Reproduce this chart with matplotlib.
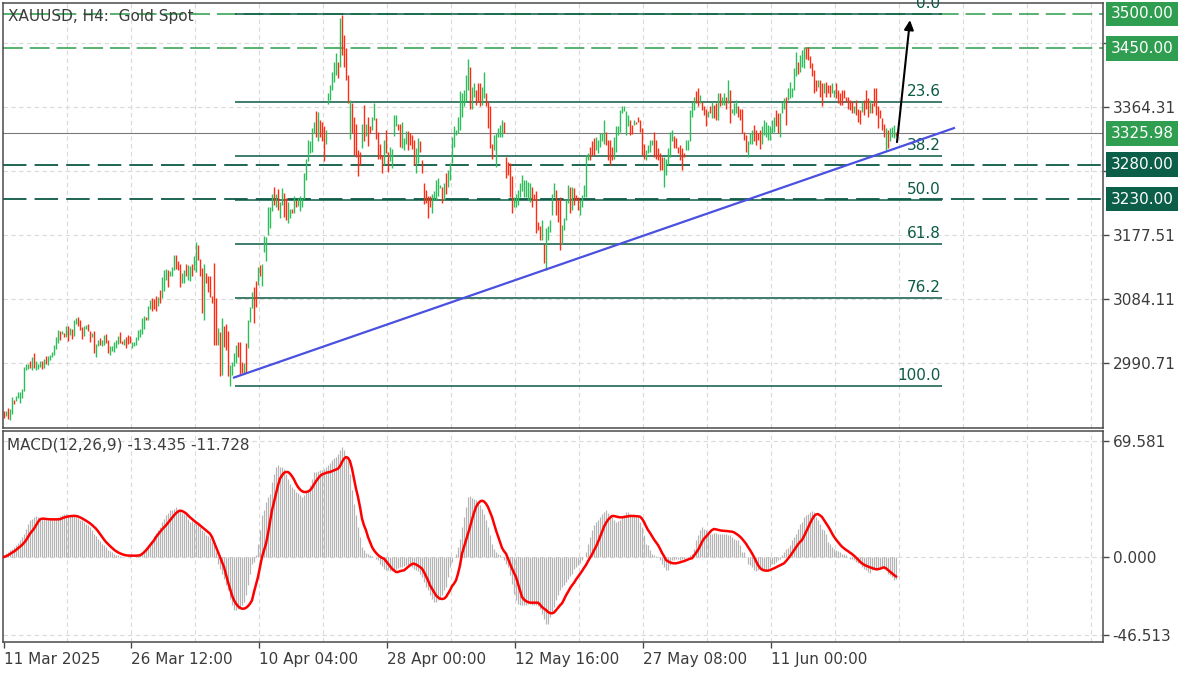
import numpy as np
import matplotlib
matplotlib.use("Agg")
import matplotlib.pyplot as plt
import matplotlib.transforms as mtransforms

# ---- price bars (H4) ----
highs = [
    2920, 2921, 2925, 2924, 2941, 2937, 2942, 2948, 2949, 2953,
    2985, 2989, 2990, 2994, 3000, 3005, 2994, 2990, 2994, 2993,
    2997, 3001, 3001, 3003, 3007, 3017, 3029, 3039, 3037, 3037,
    3035, 3045, 3045, 3042, 3040, 3053, 3057, 3058, 3053, 3043,
    3044, 3046, 3048, 3038, 3035, 3037, 3019, 3024, 3027, 3025,
    3032, 3033, 3024, 3015, 3016, 3022, 3024, 3030, 3036, 3023,
    3026, 3028, 3032, 3030, 3022, 3022, 3029, 3039, 3041, 3056,
    3059, 3058, 3074, 3083, 3085, 3084, 3088, 3087, 3097, 3116,
    3127, 3128, 3127, 3125, 3131, 3148, 3148, 3140, 3135, 3122,
    3127, 3135, 3134, 3132, 3135, 3147, 3168, 3163, 3142, 3129,
    3135, 3122, 3118, 3117, 3089, 3137, 3086, 3042, 3036, 3057,
    3045, 3047, 3038, 2988, 2992, 3005, 3017, 3021, 3022, 2992,
    2991, 3020, 3053, 3073, 3095, 3102, 3111, 3131, 3134, 3135,
    3176, 3175, 3219, 3219, 3238, 3247, 3238, 3244, 3226, 3246,
    3239, 3231, 3226, 3216, 3216, 3234, 3229, 3232, 3234, 3232,
    3268, 3288, 3316, 3314, 3333, 3343, 3358, 3357, 3345, 3343,
    3336, 3330, 3385, 3396, 3416, 3430, 3443, 3430, 3494, 3499,
    3469, 3450, 3411, 3375, 3370, 3350, 3340, 3302, 3299, 3340,
    3367, 3340, 3350, 3337, 3349, 3370, 3348, 3328, 3311, 3294,
    3316, 3331, 3299, 3306, 3303, 3353, 3353, 3340, 3340, 3343,
    3319, 3329, 3329, 3327, 3323, 3316, 3305, 3319, 3314, 3287,
    3253, 3243, 3234, 3234, 3238, 3241, 3258, 3260, 3250, 3248,
    3253, 3268, 3272, 3282, 3321, 3336, 3331, 3350, 3387, 3384,
    3389, 3411, 3435, 3423, 3394, 3399, 3389, 3399, 3399, 3394,
    3416, 3384, 3372, 3365, 3311, 3323, 3326, 3333, 3338, 3346,
    3343, 3292, 3284, 3282, 3263, 3233, 3238, 3243, 3253, 3265,
    3258, 3258, 3255, 3253, 3248, 3238, 3241, 3197, 3190, 3199,
    3165, 3187, 3190, 3199, 3238, 3253, 3243, 3229, 3233, 3192,
    3202, 3229, 3250, 3248, 3248, 3246, 3236, 3233, 3229, 3236,
    3250, 3294, 3297, 3306, 3314, 3319, 3321, 3316, 3326, 3326,
    3345, 3328, 3316, 3316, 3306, 3321, 3336, 3336, 3360, 3365,
    3365, 3358, 3353, 3345, 3338, 3345, 3343, 3349, 3346, 3333,
    3311, 3302, 3309, 3316, 3316, 3328, 3316, 3304, 3297, 3292,
    3292, 3289, 3304, 3328, 3331, 3322, 3319, 3306, 3309, 3304,
    3297, 3316, 3316, 3360, 3372, 3379, 3387, 3392, 3382, 3372,
    3365, 3362, 3358, 3365, 3372, 3367, 3370, 3384, 3385, 3379,
    3384, 3379, 3404, 3389, 3362, 3370, 3375, 3365, 3362, 3362,
    3328, 3324, 3314, 3326, 3331, 3338, 3331, 3326, 3331, 3336,
    3345, 3343, 3338, 3336, 3345, 3350, 3360, 3355, 3355, 3372,
    3377, 3379, 3392, 3401, 3392, 3421, 3445, 3430, 3440, 3447,
    3452, 3450, 3452, 3438, 3428, 3418, 3404, 3404, 3404, 3399,
    3399, 3401, 3396, 3396, 3399, 3389, 3399, 3389, 3384, 3389,
    3389, 3379, 3379, 3375, 3372, 3365, 3375, 3362, 3360, 3372,
    3375, 3389, 3377, 3375, 3370, 3392, 3392, 3365, 3360, 3348,
    3340, 3333, 3331, 3333, 3335, 3338, 3328,
]
lows = [
    2911, 2913, 2909, 2907, 2916, 2931, 2935, 2939, 2933, 2939,
    2950, 2980, 2982, 2983, 2981, 2984, 2980, 2982, 2985, 2982,
    2984, 2989, 2988, 2995, 2999, 3003, 3011, 3020, 3024, 3033,
    3028, 3029, 3023, 3032, 3026, 3030, 3048, 3045, 3039, 3026,
    3030, 3040, 3037, 3022, 3028, 3005, 3000, 3015, 3017, 3016,
    3017, 3020, 3005, 3003, 3008, 3007, 3012, 3019, 3020, 3019,
    3017, 3013, 3018, 3020, 3012, 3015, 3017, 3024, 3029, 3033,
    3041, 3053, 3054, 3070, 3067, 3069, 3067, 3074, 3078, 3085,
    3096, 3112, 3101, 3117, 3118, 3127, 3128, 3127, 3101, 3107,
    3108, 3118, 3112, 3110, 3117, 3127, 3124, 3141, 3117, 3063,
    3054, 3107, 3095, 3087, 3079, 3017, 3017, 3017, 2972, 2973,
    3014, 3010, 2972, 2957, 2973, 2986, 2991, 3000, 2973, 2976,
    2974, 2976, 3012, 3050, 3071, 3049, 3072, 3105, 3117, 3103,
    3153, 3139, 3178, 3187, 3212, 3221, 3219, 3214, 3202, 3221,
    3204, 3199, 3195, 3202, 3209, 3210, 3219, 3220, 3212, 3219,
    3230, 3258, 3285, 3297, 3299, 3326, 3321, 3314, 3321, 3314,
    3285, 3310, 3368, 3375, 3389, 3401, 3411, 3406, 3423, 3440,
    3423, 3404, 3370, 3317, 3326, 3294, 3292, 3263, 3280, 3305,
    3315, 3322, 3308, 3326, 3331, 3345, 3317, 3289, 3288, 3268,
    3280, 3297, 3269, 3286, 3275, 3322, 3336, 3331, 3306, 3305,
    3302, 3310, 3302, 3309, 3303, 3280, 3268, 3282, 3299, 3268,
    3222, 3224, 3203, 3219, 3210, 3229, 3229, 3234, 3246, 3224,
    3229, 3238, 3248, 3258, 3282, 3306, 3323, 3326, 3331, 3350,
    3365, 3372, 3389, 3361, 3362, 3379, 3367, 3372, 3365, 3367,
    3377, 3365, 3333, 3304, 3289, 3302, 3277, 3321, 3321, 3321,
    3326, 3260, 3265, 3233, 3209, 3219, 3219, 3221, 3233, 3241,
    3233, 3233, 3229, 3226, 3219, 3229, 3180, 3185, 3170, 3170,
    3136, 3127, 3170, 3182, 3207, 3233, 3207, 3197, 3156, 3165,
    3185, 3199, 3224, 3209, 3214, 3221, 3229, 3214, 3207, 3219,
    3233, 3233, 3287, 3287, 3294, 3294, 3302, 3297, 3306, 3314,
    3311, 3309, 3287, 3280, 3287, 3289, 3299, 3324, 3328, 3355,
    3358, 3324, 3336, 3324, 3325, 3338, 3340, 3342, 3328, 3294,
    3289, 3287, 3297, 3299, 3309, 3292, 3289, 3287, 3272, 3272,
    3248, 3265, 3280, 3292, 3314, 3304, 3304, 3297, 3287, 3272,
    3292, 3302, 3302, 3314, 3350, 3360, 3370, 3365, 3370, 3360,
    3353, 3336, 3350, 3355, 3348, 3348, 3345, 3345, 3365, 3367,
    3367, 3362, 3370, 3341, 3355, 3353, 3355, 3350, 3345, 3326,
    3316, 3299, 3292, 3311, 3311, 3314, 3309, 3316, 3303, 3311,
    3323, 3321, 3316, 3316, 3326, 3328, 3336, 3326, 3321, 3355,
    3362, 3338, 3375, 3377, 3379, 3389, 3409, 3413, 3416, 3423,
    3421, 3435, 3433, 3421, 3409, 3384, 3387, 3394, 3379, 3365,
    3384, 3379, 3384, 3379, 3384, 3379, 3377, 3370, 3367, 3367,
    3377, 3372, 3362, 3360, 3355, 3355, 3353, 3343, 3340, 3357,
    3353, 3362, 3350, 3355, 3355, 3365, 3353, 3333, 3348, 3331,
    3321, 3301, 3304, 3314, 3321, 3319, 3322,
]
# u = bullish bar, d = bearish bar
direction = (
    "duduuduuuu" "uuududuuud" "uduuuuuudu" "dududuuddd" "uudduduudu"
    "udduuuuudd" "uddduuuuuu" "uduudddudu" "uuduuudddu" "uduuduuddd"
    "uddddddudu" "ddduuuuddd" "uduuuddudu" "uuuuududuu" "dduududuuu"
    "uuuuuududd" "duuuuuudud" "dddudddddu" "dudduudddd" "udduuuuddu"
    "uudddduudd" "dddduuuuud" "uduuuuuuuu" "uuuduudddu" "udddduuuuu"
    "ddddduuuuu" "uuuudddddu" "duuuuudddu" "uuududdduu" "uuuddduuuu"
    "udddduuuuu" "uuuddudddd" "duuuuddddd" "uuuuuddddd" "duuuuuddud"
    "ddududdudu" "ududuuuddd" "dduuuddddu" "uuuuuudduu" "uduuuuuduu"
    "uddddddudd" "uddduudddd" "dddddudddu" "dddudddddd" "duduuud"
)

# ---- MACD(12,26,9) ----
macd_main = [
    1.5, 2.5, 3, 4, 5, 6, 7.5, 8.5, 10, 12,
    14, 17, 20, 22, 23, 24, 24.5, 24, 23.5, 23,
    22.6, 22, 22.5, 23, 23, 23, 23.5, 24, 24.5, 25,
    25.6, 26, 25.5, 25, 25, 24.6, 24, 23.5, 22.5, 22,
    21, 20, 19, 18, 16, 14, 12.5, 11, 9.5, 8,
    7, 6, 4.5, 3.5, 3, 2, 1.5, 1, 0.5, 0.3,
    0.2, 0.1, -0.2, -0.3, 0, 0.2, 0.5, 0.8, 1.5, 2.5,
    4, 5.5, 7.5, 9, 10.5, 12.5, 14.5, 16, 18, 21,
    23, 25, 26.5, 28, 28.5, 29, 30, 29, 27.5, 26.5,
    26, 25, 23, 21, 21.5, 20.5, 20, 20, 18, 16,
    15, 13.5, 12.5, 11.5, 9, 7, 3, -4, -7, -10,
    -13, -17, -20, -25, -29, -32, -32, -31, -30, -28.5,
    -27, -23, -17, -10, -4, -3, 1, 8, 16, 25,
    28, 33, 36, 38, 45, 50, 54, 55, 54, 54,
    53, 50, 47, 44, 42, 41, 39, 38.5, 37, 36,
    37, 39, 40, 43, 47, 51, 51, 51.5, 52, 52,
    53, 54, 55, 56.5, 58, 59.5, 60, 62, 64, 66,
    64, 60, 58, 50, 40, 32, 25, 18, 12, 6,
    4, 2.5, 2, 1, 0.5, 0, -1, -2, -4, -5.5,
    -7, -8, -8, -8.5, -8.5, -8, -7, -6.5, -6, -6,
    -5.5, -5, -5, -5.5, -6, -7, -7.5, -8.5, -10, -12,
    -15, -18, -20, -23, -25, -27, -27, -26, -25, -23,
    -20, -18, -12, -6, -3, 0, 2, 6, 11, 18,
    24, 30, 36, 36.5, 35.5, 35, 34, 33, 31, 29,
    26, 22, 18, 13, 8, 5, 3, 2, 1, 0,
    -2, -4, -6, -11, -16, -22, -26, -28, -28.5, -29,
    -29, -28.5, -28, -28, -28.5, -29, -29, -29.5, -31, -34,
    -37, -40, -40, -36, -33, -30, -26, -23, -20, -18,
    -17, -15, -13, -11.5, -10, -7, -6, -5, -3.5, -2,
    0, 3, 8, 12, 16, 19, 21, 22, 24, 26,
    27, 28, 26.5, 25, 24, 22.5, 21, 21.5, 22.5, 24,
    25.5, 27, 27, 26, 25, 25, 24.5, 24, 21, 18,
    13, 8, 7, 4, 2, 1, 0.5, 0, -2, -4,
    -6, -8, -8, -5, -2, -1.5, -1, -1, -1.5, -1,
    -1, -0.5, 0, 1, 2, 5, 10, 13, 16, 18,
    17, 16, 15, 14, 14, 14.5, 14.5, 14, 14, 14,
    14, 14, 13.5, 13, 12, 11, 10.5, 10, 7, 3,
    3, 0, -4, -4.5, -6, -8, -8.5, -8, -8, -8.5,
    -8, -8, -7, -6, -4, -4, -3, -2, -1, 1,
    3, 5, 5.5, 7, 10, 12, 14, 17, 20, 21,
    24, 25, 26, 27, 27.8, 27, 24, 22, 20, 17,
    16, 14, 9, 8, 6, 5, 4, 3.5, 3, 2,
    2, 1, 0, -1, -1, -2, -3, -3.5, -4, -6,
    -7, -8, -9, -9.5, -8, -7, -7, -6.5, -6, -6,
    -7, -8, -10, -10.5, -12, -14, -13.4,
]
macd_signal = [
    0, 0.5, 1, 1.8, 2.6, 3.3, 4.2, 5.2, 6.2, 7.2,
    8.5, 10, 12, 14, 15.5, 17, 19, 21, 22.6, 23,
    23, 22.8, 22.7, 22.6, 22.6, 22.6, 22.6, 22.6, 22.7, 23.2,
    23.7, 24, 24.3, 24.5, 24.6, 24.7, 24.6, 24.3, 23.8, 23.2,
    22.5, 21.8, 21, 20.2, 19.2, 18.1, 17, 15.5, 13.8, 12,
    10.5, 9, 7.8, 6.6, 5.5, 4.4, 3.5, 2.8, 2.2, 1.7,
    1.3, 1, 0.9, 0.8, 0.8, 0.8, 0.8, 0.9, 1, 1.8,
    2.8, 4, 5.5, 7, 8.5, 10, 12, 13.5, 15, 16.5,
    17.8, 19, 20.5, 22, 23.5, 25, 26.3, 27.3, 27.8, 27.6,
    27, 26.2, 25, 23.8, 22.8, 21.8, 20.8, 20, 19, 18,
    17, 16, 15, 14, 12, 9, 6, 3, 0, -3,
    -6, -10.5, -15, -19, -23, -26, -28, -29.5, -30.5, -31,
    -31, -30.5, -29.5, -28, -26, -21, -16.5, -12, -6, 0,
    4, 8, 14, 21, 28, 33, 38, 43, 47, 49,
    50.5, 51, 51, 50, 48.5, 46.5, 44, 42, 40.5, 39.5,
    39, 39, 39.3, 40, 41.5, 43.5, 45.5, 47, 48.6, 49.5,
    50, 50.5, 50.8, 51, 51.5, 52, 52.5, 53, 54.5, 57,
    59, 60, 59.5, 57.5, 53, 47, 41, 36, 30, 23,
    19, 16, 12, 9, 6, 4, 2.5, 1.2, 0.3, -0.5,
    -1, -2.5, -4, -5.5, -7, -8, -9, -9, -8.5, -8.2,
    -8, -7, -6, -5, -4.2, -4, -4.5, -5.2, -6, -7,
    -9, -11.5, -14, -17, -19, -21, -23, -24.2, -25, -25.2,
    -25, -24, -22, -20, -17.5, -16, -14, -10, -5, 2,
    6, 10, 14, 18, 22.5, 26.5, 30, 32, 33.3, 33.8,
    33.3, 32, 30, 27, 24, 20, 16, 12.5, 9, 5.5,
    3.5, 2, -1, -4, -7, -9.5, -12, -16, -20, -24,
    -25.5, -26.5, -27, -27.4, -27.4, -27.4, -27.4, -27.4, -28.5, -30,
    -31, -31.8, -33, -33.6, -33.8, -33.3, -32, -30.5, -29, -27.8,
    -25.5, -23, -21, -18.8, -17, -15.5, -13.5, -11.8, -10, -8.5,
    -6.5, -4.8, -2.5, -0.5, 1.5, 4, 6.2, 9, 12, 15,
    18.2, 20.5, 22.3, 23.6, 24.6, 24.6, 24.3, 24, 23.8, 23.8,
    24, 24.2, 24.4, 24.6, 24.6, 24.6, 24.5, 24.4, 24.2, 23,
    21, 18.5, 16.2, 14.5, 12.5, 10.5, 8.8, 7.2, 5, 2.5,
    0.5, -1.8, -2.6, -3.2, -3.6, -3.8, -3.8, -3.5, -3.2, -2.8,
    -2.5, -2, -1.5, -1, -0.8, 0.8, 2.5, 4.2, 6.5, 9,
    11, 12.2, 13.6, 15, 16.2, 16.8, 16.6, 16.3, 16, 15.8,
    15.7, 15.6, 15.5, 15.3, 15.2, 14.8, 14, 13.2, 12.2, 11,
    9.5, 8, 6, 4.2, 2.2, 0, -2.5, -4.8, -6.5, -7.5,
    -8, -8.2, -8.2, -7.8, -7.3, -6.8, -6.2, -5.6, -5, -4.4,
    -3.8, -2.5, -1, 0.5, 2.2, 4, 5.8, 7.6, 9, 10.2,
    12.5, 15, 17.5, 20.2, 22.5, 24.5, 25.5, 25.8, 25, 24,
    22.2, 20.5, 18.5, 16.5, 14.2, 12.2, 10.5, 9, 7.5, 6.2,
    5.2, 4.3, 3.5, 2.6, 1.8, 0.8, -0.3, -1.5, -2.8, -3.8,
    -4.6, -5.2, -5.7, -6.2, -6.6, -7, -7.4, -7.3, -7, -6.6,
    -6.2, -6.8, -7.8, -8.8, -9.8, -10.8, -11.7,
]

title = "XAUUSD, H4:  Gold Spot"
macd_title = "MACD(12,26,9) -13.435 -11.728"
time_labels = ["11 Mar 2025", "26 Mar 12:00", "10 Apr 04:00", "28 Apr 00:00",
               "12 May 16:00", "27 May 08:00", "11 Jun 00:00"]
time_label_bars = [0, 63.5, 127.5, 191.5, 255.5, 319.5, 383.5]
price_ticks = [2990.71, 3084.11, 3177.51, 3270.91, 3364.31, 3457.71]
# 3457.71 sits under the 3450.00 box, so its label is not visible
price_tick_labels = ["2990.71", "3084.11", "3177.51", "3270.91", "3364.31", ""]
macd_ticks = [69.581, 0.0, -46.513]
macd_tick_labels = ["69.581", "0.000", "-46.513"]
green_levels = [3500.00, 3450.00]
dark_levels = [3280.00, 3230.00]
last_price = 3325.98

fib_high, fib_low = 3500.0, 2957.0
fib_ratios = [0.0, 23.6, 38.2, 50.0, 61.8, 76.2, 100.0]
fib_span = (115.5, 469.0)           # bar range of the fibo object
trend_bars = [114.5, 475.5]
trend_prices = [2969.0, 3334.0]
arrow_from = (446.5, 3313.0)
arrow_to = (453.0, 3491.0)

n = len(highs)
assert len(lows) == n and len(direction) == n
assert len(macd_main) == n and len(macd_signal) == n

GREEN_BAR = "#2dbd5a"
RED_BAR = "#ff2b12"
LVL_GREEN = "#2a9d4a"
LVL_DARK = "#0b5a45"
TXT = "#3c3c3c"
GRID = "#dadada"
SPINE = "#4a4a4a"

plt.rcParams["font.family"] = ["DejaVu Sans"]
W, H = 1200, 675
fig = plt.figure(figsize=(W / 100, H / 100), dpi=100)
fig.patch.set_facecolor("white")

ax = fig.add_axes([3 / W, 1 - 428 / H, 1100 / W, 425 / H])
ax2 = fig.add_axes([3 / W, 1 - 642 / H, 1100 / W, 211 / H])

x = np.arange(n)
cols = [GREEN_BAR if d == "u" else RED_BAR for d in direction]

# ---- main price panel ----
ax.set_xlim(-0.5, 549.5)
ax.set_ylim(2895.9, 3516.0)
for p in price_ticks:
    ax.axhline(p, color=GRID, lw=0.8, ls=(0, (4, 3)), zorder=0)
grid_bars = np.arange(31.5, 549, 32)
for g in grid_bars:
    ax.axvline(g, color=GRID, lw=0.8, ls=(0, (4, 3)), zorder=0)
    ax2.axvline(g, color=GRID, lw=0.8, ls=(0, (4, 3)), zorder=0)

ax.axhline(last_price, color="#7a7a7a", lw=0.8, zorder=1)
for lv in green_levels:
    ax.axhline(lv, color=LVL_GREEN, lw=1.1, ls=(0, (13, 4.5)), zorder=1)
for lv in dark_levels:
    ax.axhline(lv, color=LVL_DARK, lw=1.3, ls=(0, (13, 4.5)), zorder=1)

# fibonacci retracement
for r in fib_ratios:
    lvl = fib_high - (fib_high - fib_low) * r / 100.0
    ax.hlines(lvl, fib_span[0], fib_span[1], color=LVL_DARK, lw=1.1, zorder=2)
    ax.annotate("%.1f" % r, xy=(fib_span[1], lvl), xytext=(-1, 4.3),
                textcoords="offset points", ha="right", va="baseline",
                fontsize=11, color=LVL_DARK, annotation_clip=False,
                clip_on=False, zorder=4)

ax.vlines(x, lows, highs, colors=cols, linewidth=1.0, zorder=3)

ax.plot(trend_bars, trend_prices, color="#4a50e0", lw=1.6, zorder=4,
        solid_capstyle="butt")
ax.annotate("", xy=arrow_to, xytext=arrow_from,
            arrowprops=dict(arrowstyle="-|>", color="black", lw=1.5,
                            mutation_scale=14, shrinkA=0, shrinkB=0), zorder=5)

ax.set_xticks([])
ax.yaxis.tick_right()
ax.set_yticks(price_ticks)
ax.set_yticklabels(price_tick_labels)
ax.tick_params(axis="y", right=True, left=False, length=4, width=1,
               color=SPINE, labelcolor=TXT, labelsize=11, pad=3)

trans = mtransforms.blended_transform_factory(ax.transAxes, ax.transData)
for lv in green_levels + [last_price]:
    ax.text(1.0068, lv, "%.2f" % lv, transform=trans, ha="left", va="center",
            fontsize=11, color="white", zorder=6, clip_on=False,
            bbox=dict(boxstyle="square,pad=0.32", fc="#2f9e50", ec="none"))
for lv in dark_levels:
    ax.text(1.0068, lv, "%.2f" % lv, transform=trans, ha="left", va="center",
            fontsize=11, color="white", zorder=6, clip_on=False,
            bbox=dict(boxstyle="square,pad=0.32", fc="#0b5e47", ec="none"))

# ---- MACD panel ----
ax2.set_xlim(-0.5, 549.5)
ax2.set_ylim(-51.0, 75.6)
for t in macd_ticks:
    ax2.axhline(t, color=GRID, lw=0.8, ls=(0, (4, 3)), zorder=0)
ax2.vlines(x, 0, macd_main, colors="#b4b4b4", linewidth=0.85, zorder=2)
ax2.plot(x, macd_signal, color="#ff0000", lw=1.8, zorder=3)

ax2.yaxis.tick_right()
ax2.set_yticks(macd_ticks)
ax2.set_yticklabels(macd_tick_labels)
ax2.tick_params(axis="y", right=True, left=False, length=4, width=1,
                color=SPINE, labelcolor=TXT, labelsize=11, pad=3)
ax2.set_xticks(time_label_bars)
ax2.set_xticklabels(time_labels, ha="left")
ax2.tick_params(axis="x", bottom=True, length=4, width=1, color=SPINE,
                labelcolor=TXT, labelsize=11, pad=3)

for a in (ax, ax2):
    for s in a.spines.values():
        s.set_color(SPINE)
        s.set_linewidth(1.1)

fig.text(8 / W, 1 - 17 / H, title, ha="left", va="center", fontsize=11, color=TXT)
fig.text(7 / W, 1 - 445 / H, macd_title, ha="left", va="center", fontsize=11,
         color=TXT)

fig.savefig("out.png", dpi=100)
